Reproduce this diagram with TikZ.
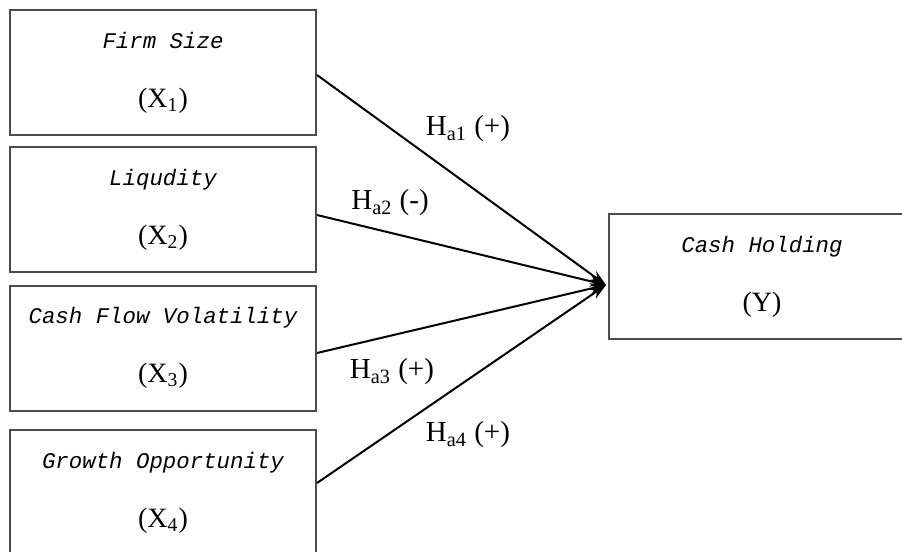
\documentclass[tikz,border=0pt]{standalone}
\usepackage{fontspec}
\setmainfont{Liberation Serif}
\newfontfamily\varfont{Liberation Mono}
\usetikzlibrary{arrows.meta}
\tikzset{
	varbox/.style={draw=black!70,line width=1pt,minimum width=153pt,minimum height=62.5pt,inner sep=0pt,align=center,font=\fontsize{14}{29.5}\selectfont},
	hyp/.style={inner sep=0pt,font=\fontsize{14.5}{16}\selectfont},
}
\newcommand{\vname}[1]{{\varfont\itshape\fontsize{11.2}{29.5}\selectfont #1}}
\begin{document}
\begin{tikzpicture}[>={Stealth[length=8pt,width=5.5pt]},x=0.5pt,y=-0.5pt,line width=1pt]
		\useasboundingbox (0,0) rectangle (902,552);
		\clip (0,0) rectangle (902,552);
		% independent variables
		\node[varbox] (x1) at (163,72.5) {\vname{Firm Size}\\(X\textsubscript{1})};
		\node[varbox] (x2) at (163,209.5) {\vname{Liqudity}\\(X\textsubscript{2})};
		\node[varbox] (x3) at (163,348) {\vname{Cash Flow Volatility}\\(X\textsubscript{3})};
		\node[varbox] (x4) at (163,492.5) {\vname{Growth Opportunity}\\(X\textsubscript{4})};
		% dependent variable
		\node[varbox] (y) at (762,276.5) {\vname{Cash Holding}\\(Y)};
		\coordinate (hub) at ([xshift=-1pt,yshift=-4.25pt]y.west);
		\draw[->] ([yshift=-1.25pt]x1.east) -- (hub);
		\draw[->] ([yshift=-2.75pt]x2.east) -- (hub);
		\draw[->] ([yshift=-2.5pt]x3.east) -- (hub);
		\draw[->] ([yshift=4.75pt]x4.east) -- (hub);
		% hypotheses
		\node[hyp] (h1) at (468,129) {H\textsubscript{a1} (+)};
		\node[hyp] (h2) at (390,203) {H\textsubscript{a2} (-)};
		\node[hyp] (h3) at (392,372) {H\textsubscript{a3} (+)};
		\node[hyp] (h4) at (468,435) {H\textsubscript{a4} (+)};
\end{tikzpicture}
\end{document}
